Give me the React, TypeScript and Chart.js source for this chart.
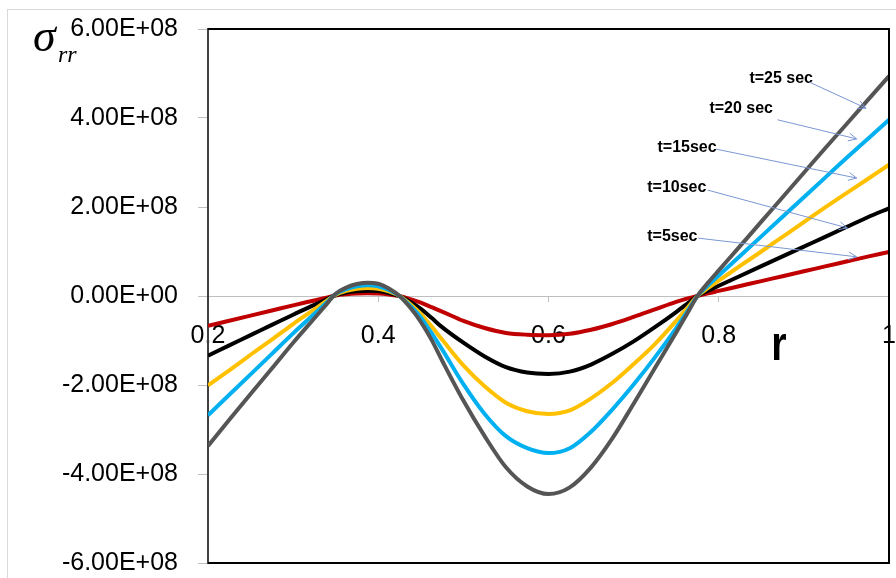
import React, { useEffect, useRef } from "react";
import { Chart, registerables } from "chart.js";

Chart.register(...registerables);

// ---------- data (stress values in units of 1e8) ----------
const UNIT = 1e8;
const rValues = [
  0.2, 0.225, 0.25, 0.275, 0.3, 0.325, 0.3375, 0.35, 0.3625, 0.375, 0.3875, 0.4,
  0.4125, 0.425, 0.4375, 0.45, 0.4625, 0.475, 0.5, 0.525, 0.55, 0.575, 0.6, 0.625,
  0.65, 0.675, 0.7, 0.725, 0.75, 0.7625, 0.775, 0.7875, 0.8, 0.825, 0.85, 0.875,
  0.9, 0.925, 0.95, 0.975, 1.0,
];
const sigmaT5 = [
  -0.67, -0.555, -0.44, -0.325, -0.21, -0.1, -0.045, 0.01, 0.038, 0.054, 0.06, 0.055,
  0.034, 0.0, -0.07, -0.15, -0.25, -0.35, -0.56, -0.72, -0.83, -0.87, -0.88, -0.85,
  -0.76, -0.63, -0.47, -0.3, -0.13, -0.06, 0.0, 0.06, 0.115, 0.225, 0.335, 0.445,
  0.555, 0.665, 0.775, 0.885, 0.99,
];
const sigmaT10 = [
  -1.34, -1.11, -0.88, -0.65, -0.42, -0.2, -0.09, 0.02, 0.076, 0.108, 0.12, 0.11,
  0.068, 0.0, -0.13, -0.29, -0.49, -0.7, -1.05, -1.36, -1.6, -1.72, -1.75, -1.7,
  -1.54, -1.3, -1.02, -0.7, -0.36, -0.18, 0.0, 0.12, 0.23, 0.45, 0.67, 0.89,
  1.11, 1.33, 1.55, 1.77, 1.97,
];
const sigmaT15 = [
  -2.01, -1.67, -1.32, -0.98, -0.63, -0.3, -0.135, 0.03, 0.114, 0.162, 0.18, 0.165,
  0.102, 0.0, -0.18, -0.4, -0.68, -0.98, -1.56, -2.03, -2.4, -2.59, -2.65, -2.57,
  -2.3, -1.95, -1.53, -1.08, -0.56, -0.28, 0.0, 0.18, 0.345, 0.675, 1.0, 1.33,
  1.66, 1.99, 2.31, 2.63, 2.95,
];
const sigmaT20 = [
  -2.68, -2.22, -1.76, -1.3, -0.84, -0.4, -0.18, 0.04, 0.152, 0.216, 0.24, 0.22,
  0.136, 0.0, -0.22, -0.48, -0.83, -1.2, -1.98, -2.65, -3.15, -3.42, -3.53, -3.42,
  -3.05, -2.55, -1.99, -1.38, -0.72, -0.36, 0.0, 0.24, 0.46, 0.9, 1.34, 1.78,
  2.22, 2.66, 3.1, 3.53, 3.96,
];
const sigmaT25 = [
  -3.37, -2.78, -2.2, -1.63, -1.05, -0.5, -0.225, 0.05, 0.19, 0.27, 0.3, 0.275,
  0.17, 0.0, -0.26, -0.58, -0.98, -1.45, -2.35, -3.15, -3.85, -4.28, -4.45, -4.3,
  -3.85, -3.2, -2.42, -1.62, -0.82, -0.41, 0.0, 0.3, 0.575, 1.12, 1.67, 2.22,
  2.77, 3.32, 3.86, 4.4, 4.94,
];
const seriesNames = ["t=5sec", "t=10sec", "t=15sec", "t=20 sec", "t=25 sec"];
const seriesValues = [sigmaT5, sigmaT10, sigmaT15, sigmaT20, sigmaT25];
const seriesColors = ["#C00000", "#000000", "#FFC000", "#00B0F0", "#555555"];

// annotation labels and arrows (in data coordinates: r, stress/1e8)
const labelR = [0.716, 0.716, 0.728, 0.789, 0.836];
const labelS = [1.33, 2.43, 3.33, 4.22, 4.88];
const arrowFromR = [0.776, 0.787, 0.797, 0.869, 0.906];
const arrowFromS = [1.3, 2.38, 3.3, 3.96, 4.81];
const arrowToR = [0.962, 0.951, 0.962, 0.962, 0.973];
const arrowToS = [0.88, 1.53, 2.65, 3.53, 4.22];

const xMin = 0.2;
const xMax = 1.0;
const xStep = 0.2;
const yMin = -6;
const yMax = 6;
const yStep = 2;

function sciLabel(v: number): string {
  if (v === 0) return "0.00E+00";
  const [m, e] = v.toExponential(2).split("e");
  const n = parseInt(e, 10);
  return m + "E" + (n < 0 ? "-" : "+") + String(Math.abs(n)).padStart(2, "0");
}

const decorPlugin = {
  id: "decor",
  beforeDraw(chart: any) {
    const ctx = chart.ctx;
    ctx.save();
    ctx.strokeStyle = "#d9d9d9";
    ctx.lineWidth = 1;
    ctx.strokeRect(7.5, 9.5, 1200, 1200);
    ctx.restore();
  },
  afterDraw(chart: any) {
    const ctx = chart.ctx;
    const { left, right, top, bottom } = chart.chartArea;
    const xs = chart.scales.x;
    const ys = chart.scales.y;
    ctx.save();
    // plot border (top, right, bottom)
    ctx.strokeStyle = "#000";
    ctx.lineWidth = 2;
    ctx.beginPath();
    ctx.moveTo(left, top);
    ctx.lineTo(right, top);
    ctx.lineTo(right, bottom);
    ctx.lineTo(left, bottom);
    ctx.stroke();

    // annotations
    ctx.font = 'bold 16px "Liberation Sans"';
    ctx.textAlign = "left";
    ctx.textBaseline = "middle";
    ctx.fillStyle = "#000";
    for (let i = 0; i < seriesNames.length; i++) {
      ctx.fillText(
        seriesNames[i],
        xs.getPixelForValue(labelR[i]),
        ys.getPixelForValue(labelS[i] * UNIT)
      );
      const x1 = xs.getPixelForValue(arrowFromR[i]);
      const y1 = ys.getPixelForValue(arrowFromS[i] * UNIT);
      const x2 = xs.getPixelForValue(arrowToR[i]);
      const y2 = ys.getPixelForValue(arrowToS[i] * UNIT);
      ctx.strokeStyle = "#7b97d2";
      ctx.lineWidth = 1;
      ctx.beginPath();
      ctx.moveTo(x1, y1);
      ctx.lineTo(x2, y2);
      const a = Math.atan2(y2 - y1, x2 - x1);
      const h = 9;
      ctx.moveTo(x2 - h * Math.cos(a - 0.45), y2 - h * Math.sin(a - 0.45));
      ctx.lineTo(x2, y2);
      ctx.lineTo(x2 - h * Math.cos(a + 0.45), y2 - h * Math.sin(a + 0.45));
      ctx.stroke();
    }

    // axis title "r"
    ctx.save();
    ctx.font = 'bold 48px "Liberation Sans"';
    ctx.textBaseline = "alphabetic";
    ctx.translate(xs.getPixelForValue(0.8616), ys.getPixelForValue(-1.44 * UNIT));
    ctx.scale(0.82, 1);
    ctx.fillText("r", 0, 0);
    ctx.restore();

    // sigma_rr
    ctx.font = 'italic 46px "Liberation Serif"';
    ctx.textBaseline = "alphabetic";
    ctx.fillText("σ", 33, 51);
    ctx.font = 'italic 24px "Liberation Serif"';
    ctx.fillText("rr", 58, 62);
    ctx.restore();
  },
};

export default function App() {
  const canvasRef = useRef<HTMLCanvasElement | null>(null);

  useEffect(() => {
    if (!canvasRef.current) return;
    const datasets = seriesValues.map((vals, i) => ({
      label: seriesNames[i],
      data: rValues.map((r, j) => ({ x: r, y: vals[j] * UNIT })),
      borderColor: seriesColors[i],
      backgroundColor: seriesColors[i],
      borderWidth: 4,
      pointRadius: 0,
      cubicInterpolationMode: "monotone" as const,
      fill: false,
      order: seriesNames.length - i,
    }));

    const chart = new Chart(canvasRef.current, {
      type: "line",
      data: { datasets },
      options: {
        animation: false,
        responsive: false,
        devicePixelRatio: 1,
        layout: { padding: { left: 0, top: 29, right: 7, bottom: 15 } },
        plugins: {
          legend: { display: false },
          title: { display: false },
          tooltip: { enabled: false },
        },
        scales: {
          x: {
            type: "linear",
            position: { y: 0 } as any,
            min: xMin,
            max: xMax,
            ticks: {
              stepSize: xStep,
              padding: 20,
              maxRotation: 0,
              color: "#000",
              font: { family: '"Liberation Sans"', size: 25 },
              callback: (v: any) => String(Math.round(Number(v) * 10) / 10),
            },
            grid: {
              display: true,
              drawOnChartArea: false,
              drawTicks: true,
              tickLength: 5,
              color: "#bfbfbf",
            },
            border: { display: true, color: "#bfbfbf", width: 1 },
            afterFit: (s: any) => {
              s.paddingLeft = 0;
              s.paddingRight = 0;
            },
          },
          y: {
            type: "linear",
            position: "left",
            min: yMin * UNIT,
            max: yMax * UNIT,
            ticks: {
              stepSize: yStep * UNIT,
              padding: 20,
              color: "#000",
              font: { family: '"Liberation Sans"', size: 25 },
              callback: (v: any) => sciLabel(Number(v)),
            },
            grid: {
              display: true,
              drawOnChartArea: false,
              drawTicks: true,
              tickLength: 10,
              color: "#bfbfbf",
            },
            border: { display: true, color: "#404040", width: 2 },
            afterFit: (s: any) => {
              s.width = 208;
              s.paddingTop = 0;
              s.paddingBottom = 0;
            },
          },
        },
      },
      plugins: [decorPlugin],
    });
    return () => chart.destroy();
  }, []);

  return (
    <div style={{ position: "absolute", left: 0, top: 0, width: 896, height: 578, background: "#fff" }}>
      <canvas ref={canvasRef} width={896} height={578} style={{ display: "block" }} />
    </div>
  );
}
